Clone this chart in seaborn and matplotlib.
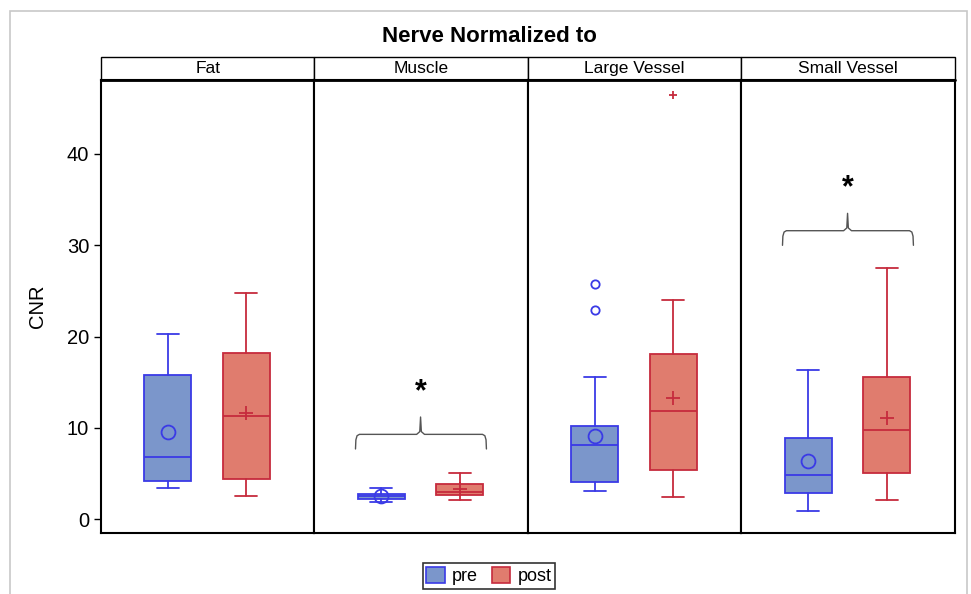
import pandas as pd
import matplotlib.pyplot as plt
import seaborn as sns
from matplotlib.patches import Rectangle, Patch

referencias = ["Fat", "Muscle", "Large Vessel", "Small Vessel"]
grupos = ["pre", "post"]

# resumo - pre
q1_pre = [4.2, 2.2, 4.05, 2.9]
mediana_pre = [6.8, 2.5, 8.15, 4.8]
q3_pre = [15.85, 2.8, 10.2, 8.9]
min_pre = [3.4, 1.85, 3.1, 0.9]
max_pre = [20.3, 3.45, 15.6, 16.3]
media_pre = [9.6, 2.5, 9.1, 6.4]
outliers_pre = [[], [], [25.8, 22.9], []]

# resumo - post
q1_post = [4.4, 2.65, 5.35, 5.1]
mediana_post = [11.3, 3.0, 11.85, 9.8]
q3_post = [18.25, 3.9, 18.1, 15.6]
min_post = [2.55, 2.1, 2.4, 2.1]
max_post = [24.8, 5.05, 24.05, 27.55]
media_post = [11.65, 3.3, 13.3, 11.1]
outliers_post = [[], [], [46.5], []]

# comparacoes significativas (altura da chave)
sig_refs = ["Muscle", "Small Vessel"]
sig_altura = [9.3, 31.6]

cores_fill = {"pre": "#7b96cb", "post": "#e07c6e"}
cores_borda = {"pre": "#3a3ae6", "post": "#c62b3d"}
marcador_media = {"pre": "o", "post": "+"}

linhas = []
for i, ref in enumerate(referencias):
    linhas.append(dict(ref=ref, grupo="pre", pos=0, q1=q1_pre[i], med=mediana_pre[i], q3=q3_pre[i],
                       lo=min_pre[i], hi=max_pre[i], mean=media_pre[i], fliers=outliers_pre[i]))
    linhas.append(dict(ref=ref, grupo="post", pos=1, q1=q1_post[i], med=mediana_post[i], q3=q3_post[i],
                       lo=min_post[i], hi=max_post[i], mean=media_post[i], fliers=outliers_post[i]))
df = pd.DataFrame(linhas)


def desenha_box(data, **kws):
    ax = plt.gca()
    for _, r in data.iterrows():
        g = r["grupo"]
        stats = [dict(med=r["med"], q1=r["q1"], q3=r["q3"], whislo=r["lo"], whishi=r["hi"],
                      mean=r["mean"], fliers=r["fliers"])]
        cb = cores_borda[g]
        ax.bxp(stats, positions=[r["pos"]], widths=0.6, capwidths=0.28, showmeans=True,
               patch_artist=True,
               boxprops=dict(facecolor=cores_fill[g], edgecolor=cb, linewidth=1.3),
               medianprops=dict(color=cb, linewidth=1.3),
               whiskerprops=dict(color=cb, linewidth=1.3),
               capprops=dict(color=cb, linewidth=1.3),
               meanprops=dict(marker=marcador_media[g], markerfacecolor="none", markeredgecolor=cb,
                              markersize=10, markeredgewidth=1.3),
               flierprops=dict(marker=marcador_media[g], markerfacecolor="none", markeredgecolor=cb,
                               markersize=6, markeredgewidth=1.3))


sns.set_style("ticks")
plt.rcParams['font.family'] = ['Liberation Sans', 'DejaVu Sans']
plt.rcParams['text.color'] = 'black'
plt.rcParams['axes.labelcolor'] = 'black'
plt.rcParams['ytick.color'] = 'black'

g = sns.FacetGrid(df, col="ref", col_order=referencias, sharey=True, despine=False, height=4, aspect=0.5)
g.map_dataframe(desenha_box)
fig = g.figure
fig.set_size_inches(9.71, 5.94)
fig.subplots_adjust(left=0.104, right=0.9835, bottom=0.1027, top=0.8653, wspace=0)

for i, (ax, ref) in enumerate(zip(g.axes.flat, referencias)):
    ax.set_title("")
    ax.set_xlim(-0.853, 1.87)
    ax.set_ylim(-1.5, 48.1)
    ax.set_xticks([])
    ax.set_xlabel("")
    for s in ax.spines.values():
        s.set_color("black")
        s.set_linewidth(1.5)
    if i == 0:
        ax.set_yticks([0, 10, 20, 30, 40])
        ax.tick_params(axis="y", direction="out", length=5, width=1, labelsize=14.5)
        ax.set_ylabel("CNR", fontsize=14.5, labelpad=14)
    else:
        ax.tick_params(axis="y", left=False, labelleft=False)
        ax.set_ylabel("")
    # faixa do titulo do painel
    ax.add_patch(Rectangle((0, 1), 1, 0.0508, transform=ax.transAxes, clip_on=False,
                           facecolor="white", edgecolor="black", linewidth=1.0))
    ax.plot([0, 1], [1, 1], transform=ax.transAxes, color="black", lw=2, clip_on=False)
    ax.text(0.5, 1.0254, ref, transform=ax.transAxes, ha="center", va="center", fontsize=12.5)

# chaves de significancia
for ref, h in zip(sig_refs, sig_altura):
    ax = g.axes.flat[referencias.index(ref)]
    xs = [-0.33, -0.325, -0.31, -0.28, 0.45, 0.49, 0.5, 0.51, 0.55, 1.29, 1.32, 1.335, 1.34]
    ys = [h - 1.6, h - 0.6, h - 0.15, h, h, h + 0.3, h + 1.9, h + 0.3, h, h, h - 0.15, h - 0.6, h - 1.6]
    ax.plot(xs, ys, color="#555555", lw=1)
    ax.text(0.5, h + 4.6, "*", ha="center", va="center", fontsize=22, fontweight="bold")

fig.suptitle("Nerve Normalized to", x=0.504, y=0.938, ha="center", va="center",
             fontsize=16, fontweight="bold")

handles = [Patch(facecolor=cores_fill[k], edgecolor=cores_borda[k], linewidth=1.2, label=k) for k in grupos]
fig.legend(handles=handles, loc="center", bbox_to_anchor=(0.5036, 0.0303), ncol=2, frameon=True,
           fancybox=False, edgecolor="black", fontsize=13, handlelength=1.0, handleheight=1.0,
           handletextpad=0.4, columnspacing=0.8, borderpad=0.2, borderaxespad=0.2)
fig.legends[0].get_frame().set_linewidth(1.2)

# moldura cinza da figura
fig.add_artist(Rectangle((10 / 971, -0.05), 957 / 971, 1.05 - 11 / 594, transform=fig.transFigure,
                         fill=False, edgecolor="#c8c8c8", linewidth=1.2))

fig.savefig("out.png", dpi=100)
